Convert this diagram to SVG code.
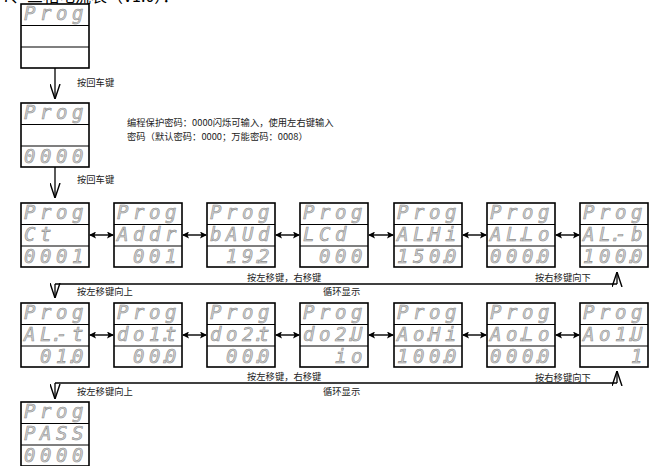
<svg xmlns="http://www.w3.org/2000/svg" width="649" height="466" viewBox="0 0 649 466">
<style>
.box{fill:#fff;stroke:#000;stroke-width:1.6}
.div{stroke:#000;stroke-width:1.1}
.seg{font-family:"DejaVu Sans Mono","Liberation Mono",monospace;font-style:italic;font-size:19px;fill:#cfcfcf;stroke:#8a8a8a;stroke-width:0.55}
.lbl{font-family:"Noto Sans CJK SC","Noto Sans CJK JP",sans-serif;font-size:9.3px;fill:#222}
.ttl{font-family:"Noto Sans CJK SC",sans-serif;font-size:16px;fill:#000}
.ln{fill:none;stroke:#000;stroke-width:1.3}
.ar{marker-end:url(#vee)}
.dbl{fill:none;stroke:#000;stroke-width:1.4;marker-start:url(#tri);marker-end:url(#tri)}
</style>
<defs>
<marker id="vee" viewBox="0 0 15 11" refX="15" refY="5.5" markerWidth="15" markerHeight="11" markerUnits="userSpaceOnUse" orient="auto">
<path d="M0,0.5 L15,5.5 L0,10.5" fill="none" stroke="#000" stroke-width="1.4"/>
</marker>
<marker id="tri" viewBox="0 0 7 7" refX="6" refY="3.5" markerWidth="7" markerHeight="7" markerUnits="userSpaceOnUse" orient="auto-start-reverse">
<path d="M0,0 L7,3.5 L0,7 L1.5,3.5 z" fill="#000"/>
</marker>
<g id="frame">
<rect class="box" x="0" y="0" width="68" height="64"/>
<line class="div" x1="0" y1="21.5" x2="68" y2="21.5"/>
<line class="div" x1="0" y1="43" x2="68" y2="43"/>
</g>
</defs>

<text class="ttl" x="2" y="2">7、三相电流表（V1.0）：</text>

<g id="connectors">
<line class="ln ar" x1="55" y1="68" x2="55" y2="99"/>
<line class="ln ar" x1="55" y1="167" x2="55" y2="198"/>
<line class="ln" x1="55" y1="284" x2="617" y2="284"/>
<line class="ln ar" x1="55" y1="284" x2="55" y2="298"/>
<line class="ln ar" x1="617" y1="284" x2="617" y2="272"/>
<line class="ln" x1="55" y1="383" x2="617" y2="383"/>
<line class="ln ar" x1="55" y1="383" x2="55" y2="399"/>
<line class="ln ar" x1="617" y1="383" x2="617" y2="371"/>
<line class="dbl" x1="90" y1="235" x2="113" y2="235"/>
<line class="dbl" x1="183" y1="235" x2="206" y2="235"/>
<line class="dbl" x1="276" y1="235" x2="299" y2="235"/>
<line class="dbl" x1="369" y1="235" x2="393" y2="235"/>
<line class="dbl" x1="463" y1="235" x2="486" y2="235"/>
<line class="dbl" x1="556" y1="235" x2="579" y2="235"/>
<line class="dbl" x1="90" y1="335" x2="113" y2="335"/>
<line class="dbl" x1="183" y1="335" x2="206" y2="335"/>
<line class="dbl" x1="276" y1="335" x2="299" y2="335"/>
<line class="dbl" x1="369" y1="335" x2="393" y2="335"/>
<line class="dbl" x1="463" y1="335" x2="486" y2="335"/>
<line class="dbl" x1="556" y1="335" x2="579" y2="335"/>
</g>

<g id="labels">
<text class="lbl" x="77" y="86">按回车键</text>
<text class="lbl" x="127" y="126">编程保护密码：0000闪烁可输入，使用左右键输入</text>
<text class="lbl" x="127" y="139.5">密码（默认密码：0000；万能密码：0008）</text>
<text class="lbl" x="77" y="183">按回车键</text>
<text class="lbl" x="247" y="281">按左移键，右移键</text>
<text class="lbl" x="535" y="281">按右移键向下</text>
<text class="lbl" x="77" y="295">按左移键向上</text>
<text class="lbl" x="323" y="295">循环显示</text>
<text class="lbl" x="247" y="380">按左移键，右移键</text>
<text class="lbl" x="535" y="381">按右移键向下</text>
<text class="lbl" x="77" y="395">按左移键向上</text>
<text class="lbl" x="323" y="395">循环显示</text>
</g>

<g id="n-prog1"><use href="#frame" x="21" y="4"/>
<text class="seg" x="24 40 56 72" y="20">Prog</text></g>

<g id="n-pwd"><use href="#frame" x="21" y="103"/>
<text class="seg" x="24 40 56 72" y="119">Prog</text>
<text class="seg" x="24 40 56 72" y="163">0000</text></g>

<g id="n-ct"><use href="#frame" x="21" y="203"/>
<text class="seg" x="24 40 56 72" y="219">Prog</text>
<text class="seg" x="24 40" y="241">Ct</text>
<text class="seg" x="24 40 56 72" y="263">0001</text></g>

<g id="n-addr"><use href="#frame" x="114" y="203"/>
<text class="seg" x="117 133 149 165" y="219">Prog</text>
<text class="seg" x="117 133 149 165" y="241">Addr</text>
<text class="seg" x="133 149 165" y="263">001</text></g>

<g id="n-baud"><use href="#frame" x="207" y="203"/>
<text class="seg" x="210 226 242 258" y="219">Prog</text>
<text class="seg" x="210 226 242 258" y="241">bAUd</text>
<text class="seg" x="226 242 253 258" y="263">19.2</text></g>

<g id="n-lcd"><use href="#frame" x="300" y="203"/>
<text class="seg" x="303 319 335 351" y="219">Prog</text>
<text class="seg" x="303 319 335" y="241">LCd</text>
<text class="seg" x="319 335 351" y="263">000</text></g>

<g id="n-alhi"><use href="#frame" x="394" y="203"/>
<text class="seg" x="397 413 429 445" y="219">Prog</text>
<text class="seg" x="397 413 424 429 445" y="241">AL.Hi</text>
<text class="seg" x="397 413 429 440 445" y="263">150.0</text></g>

<g id="n-allo"><use href="#frame" x="487" y="203"/>
<text class="seg" x="490 506 522 538" y="219">Prog</text>
<text class="seg" x="490 506 517 522 538" y="241">AL.Lo</text>
<text class="seg" x="490 506 522 533 538" y="263">000.0</text></g>

<g id="n-alb"><use href="#frame" x="580" y="203"/>
<text class="seg" x="583 599 615 631" y="219">Prog</text>
<text class="seg" x="583 599 610 615 631" y="241">AL.-b</text>
<text class="seg" x="583 599 615 626 631" y="263">100.0</text></g>

<g id="n-alt"><use href="#frame" x="21" y="303"/>
<text class="seg" x="24 40 56 72" y="319">Prog</text>
<text class="seg" x="24 40 51 56 72" y="341">AL.-t</text>
<text class="seg" x="40 56 67 72" y="363">01.0</text></g>

<g id="n-do1t"><use href="#frame" x="114" y="303"/>
<text class="seg" x="117 133 149 165" y="319">Prog</text>
<text class="seg" x="117 133 149 160 165" y="341">do1.t</text>
<text class="seg" x="133 149 160 165" y="363">00.0</text></g>

<g id="n-do2t"><use href="#frame" x="207" y="303"/>
<text class="seg" x="210 226 242 258" y="319">Prog</text>
<text class="seg" x="210 226 242 253 258" y="341">do2.t</text>
<text class="seg" x="226 242 253 258" y="363">00.0</text></g>

<g id="n-do2u"><use href="#frame" x="300" y="303"/>
<text class="seg" x="303 319 335 351" y="319">Prog</text>
<text class="seg" x="303 319 335 346 351" y="341">do2.U</text>
<text class="seg" x="335 351" y="363">io</text></g>

<g id="n-aohi"><use href="#frame" x="394" y="303"/>
<text class="seg" x="397 413 429 445" y="319">Prog</text>
<text class="seg" x="397 413 424 429 445" y="341">Ao.Hi</text>
<text class="seg" x="397 413 429 440 445" y="363">100.0</text></g>

<g id="n-aolo"><use href="#frame" x="487" y="303"/>
<text class="seg" x="490 506 522 538" y="319">Prog</text>
<text class="seg" x="490 506 517 522 538" y="341">Ao.Lo</text>
<text class="seg" x="490 506 522 533 538" y="363">000.0</text></g>

<g id="n-ao1u"><use href="#frame" x="580" y="303"/>
<text class="seg" x="583 599 615 631" y="319">Prog</text>
<text class="seg" x="583 599 615 626 631" y="341">Ao1.U</text>
<text class="seg" x="631" y="363">1</text></g>

<g id="n-pass"><use href="#frame" x="21" y="402"/>
<text class="seg" x="24 40 56 72" y="418">Prog</text>
<text class="seg" x="24 40 56 72" y="440">PASS</text>
<text class="seg" x="24 40 56 72" y="462">0000</text></g>
</svg>
